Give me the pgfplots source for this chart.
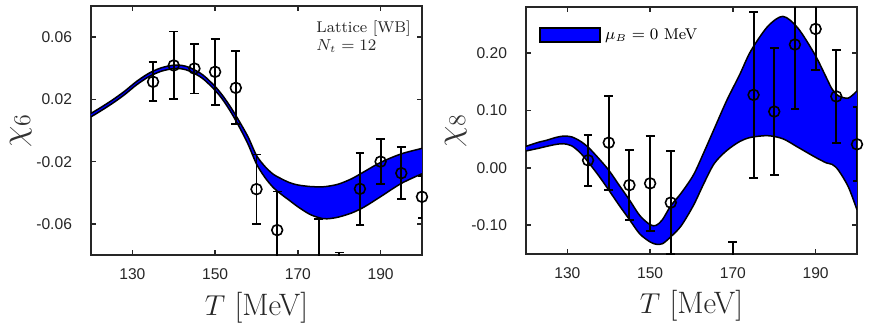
\documentclass[border=0pt]{standalone}
\usepackage{pgfplots}
\usepackage{pgfplotstable}
\pgfplotsset{compat=1.18}
\usepgfplotslibrary{fillbetween}
\usepackage{fontspec}
\newfontfamily\ticksf{Liberation Sans}

% chi_6 band (upper / lower)
\pgfplotstableread{
T up lo
120 0.0110 0.0088
122 0.0142 0.0120
125 0.0193 0.0171
128 0.0250 0.0228
131 0.0315 0.0293
134 0.0368 0.0346
137 0.0403 0.0381
140 0.0420 0.0398
142 0.0418 0.0396
144 0.0403 0.0380
147 0.0358 0.0334
150 0.0283 0.0258
152 0.0218 0.0192
154 0.0140 0.0110
156 0.0052 0.0015
158 -0.0043 -0.0090
160 -0.0160 -0.0215
162 -0.0230 -0.0300
164 -0.0280 -0.0365
166 -0.0310 -0.0410
168 -0.0335 -0.0450
170 -0.0350 -0.0490
173 -0.0360 -0.0540
176 -0.0362 -0.0566
178 -0.0355 -0.0565
180 -0.0343 -0.0555
183 -0.0310 -0.0530
186 -0.0265 -0.0492
190 -0.0205 -0.0425
195 -0.0150 -0.0340
200 -0.0115 -0.0278
}\bandA

% chi_8 band (upper / lower)
\pgfplotstableread{
T up lo
120 0.0375 0.0294
123 0.0445 0.0340
125 0.0480 0.0374
127 0.0525 0.0405
129 0.0553 0.0420
131 0.0540 0.0385
133 0.0470 0.0270
135 0.0362 0.0103
137.5 0.0170 -0.0130
140 -0.0040 -0.0386
142.5 -0.0300 -0.0650
145 -0.0558 -0.0900
147.5 -0.0830 -0.1150
150 -0.0990 -0.1290
151.5 -0.1000 -0.1330
153 -0.0900 -0.1320
155 -0.0660 -0.1200
157.5 -0.0440 -0.1010
160.5 -0.0120 -0.0650
163 0.0270 -0.0270
165.5 0.0680 0.0075
168.5 0.1170 0.0300
171.7 0.1630 0.0460
174.3 0.2030 0.0530
178.4 0.2460 0.0560
182.1 0.2637 0.0506
185.7 0.2435 0.0360
189.8 0.1975 0.0190
192.6 0.1570 0.0086
194 0.1370 0.0060
195.5 0.1255 -0.0040
197.9 0.1215 -0.0330
200 0.1340 -0.0730
}\bandB

% lattice chi_6
\pgfplotstableread{
T v e
135 0.0313 0.0126
140 0.0418 0.0218
145 0.0398 0.0160
150 0.0377 0.0213
155 0.0274 0.0235
160 -0.0377 0.0223
165 -0.0640 0.0248
175 -0.0850 0.0280
180 -0.1000 0.0216
185 -0.0375 0.0230
190 -0.0200 0.0145
195 -0.0274 0.0168
200 -0.0426 0.0135
}\latA

% lattice chi_8
\pgfplotstableread{
T v e
135 0.0132 0.0445
140 0.0438 0.0820
145 -0.0300 0.0615
150 -0.0270 0.0830
155 -0.0605 0.0893
170 -0.2100 0.0805
175 0.1270 0.1445
180 0.0980 0.1100
185 0.2147 0.1130
190 0.2418 0.0720
195 0.1243 0.0815
200 0.0410 0.0645
}\latB

\pgfplotsset{
  myaxis/.style={
    scale only axis, width=165.5pt,
    xmin=120, xmax=200,
    xtick={130,150,170,190}, xticklabels={130,150,170,190},
    scaled y ticks=false,
    axis line style={line width=1pt, black!85},
    every tick/.style={black!85, line width=0.8pt},
    major tick length=2.5pt,
    tick align=inside,
    tick label style={font=\ticksf\fontsize{7.8}{9}\selectfont, text=black!85},
    yticklabel style={xshift=-6pt},
    xticklabel style={yshift=-3.4pt},
    xlabel={$T$ [MeV]},
    xlabel style={at={(axis description cs:0.5,-0.241)}, anchor=base, font=\fontsize{15.5}{18}\selectfont, text=black!85},
    ylabel style={at={(axis description cs:-0.212,0.5)}, anchor=center, font=\fontsize{17}{20}\selectfont, text=black!80},
    legend style={draw=none, fill=none, font=\fontsize{7.8}{9}\selectfont, inner sep=0pt, outer sep=0pt},
  },
  bandline/.style={black, line width=0.75pt, smooth, no marks, forget plot},
  ebars/.style={draw=none, line width=0.95pt, mark=none, forget plot,
    error bars/.cd, y dir=both, y explicit,
    error bar style={draw=black, line width=0.95pt},
    error mark options={draw=black, rotate=90, line width=0.95pt, mark size=2.2pt}},
  pts/.style={only marks, mark=o, mark size=2.7pt, black, mark options={line width=0.8pt}, forget plot},
}

\begin{document}
\begin{tikzpicture}
\begin{axis}[myaxis, at={(0pt,0pt)}, anchor=south west, height=124.5pt,
  ymin=-0.08, ymax=0.08,
  ytick={-0.06,-0.02,0.02,0.06}, yticklabels={-0.06,-0.02,0.02,0.06},
  ylabel={$\chi_6$}]
  \addplot[draw=none, smooth, name path=upA, forget plot] table[x=T, y=up] {\bandA};
  \addplot[draw=none, smooth, name path=loA, forget plot] table[x=T, y=lo] {\bandA};
  \addplot[blue, forget plot] fill between[of=upA and loA];
  \addplot[bandline] table[x=T, y=up] {\bandA};
  \addplot[bandline] table[x=T, y=lo] {\bandA};
  \addplot[ebars] table[x=T, y=v, y error=e] {\latA};
  \addplot[pts, restrict y to domain=-0.081:0.081] table[x=T, y=v] {\latA};
  \node[anchor=base west, inner sep=0pt, font=\fontsize{7.8}{9}\selectfont, text=black!85] at (rel axis cs:0.680,0.8916) {Lattice [WB]};
  \node[anchor=base west, inner sep=0pt, font=\fontsize{7.8}{9}\selectfont, text=black!85] at (rel axis cs:0.680,0.823) {$N_t = 12$};
\end{axis}

\begin{axis}[myaxis, at={(217.5pt,0.5pt)}, anchor=south west, height=123.5pt,
  ymin=-0.15, ymax=0.28,
  ytick={-0.1,0,0.1,0.2}, yticklabels={-0.10,0.00,0.10,0.20},
  ylabel={$\chi_8$},
  legend style={at={(rel axis cs:0.040,0.929)}, anchor=north west}]
  \addlegendimage{legend image code/.code={\draw[fill=blue, draw=black, line width=0.9pt] (0pt,-3.5pt) rectangle (30pt,3.5pt);}}
  \addlegendentry{$\mu_B = 0$ MeV}
  \addplot[draw=none, smooth, name path=upB, forget plot] table[x=T, y=up] {\bandB};
  \addplot[draw=none, smooth, name path=loB, forget plot] table[x=T, y=lo] {\bandB};
  \addplot[blue, forget plot] fill between[of=upB and loB];
  \addplot[bandline] table[x=T, y=up] {\bandB};
  \addplot[bandline] table[x=T, y=lo] {\bandB};
  \addplot[ebars] table[x=T, y=v, y error=e] {\latB};
  \addplot[pts, restrict y to domain=-0.151:0.281] table[x=T, y=v] {\latB};
\end{axis}
\pgfresetboundingbox
\path[use as bounding box] (-45.5pt,-37pt) rectangle (389pt,127.5pt);
\end{tikzpicture}
\end{document}
